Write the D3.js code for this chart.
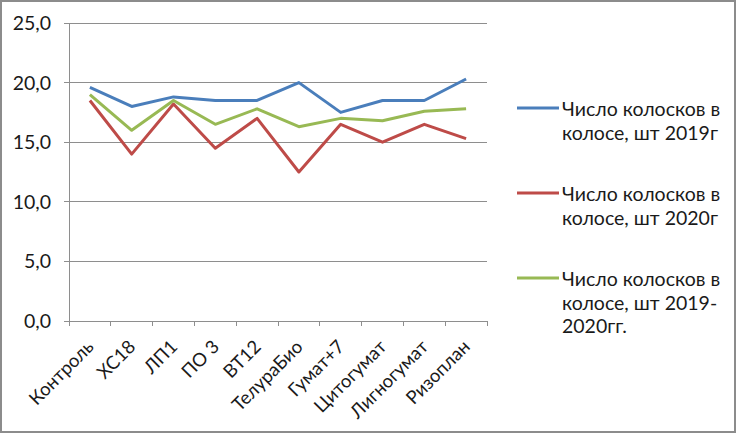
<!DOCTYPE html>
<html><head><meta charset="utf-8">
<script src="https://cdn.jsdelivr.net/npm/d3@7"></script>
<style>html,body{margin:0;padding:0;background:#fff;}svg{display:block;}</style>
</head><body>
<svg id="c" width="737" height="434"></svg>
<script>
const categories = ["Контроль","ХС18","ЛП1","ПО 3","ВТ12","ТелураБио","Гумат+7","Цитогумат","Лигногумат","Ризоплан"];
const series2019 = [19.6,18.0,18.8,18.5,18.5,20.0,17.5,18.5,18.5,20.3];
const series2020 = [18.5,14.0,18.2,14.5,17.0,12.5,16.5,15.0,16.5,15.3];
const series1920 = [19.0,16.0,18.5,16.5,17.8,16.3,17.0,16.8,17.6,17.8];
const yTicks = [0,5,10,15,20,25];
const seriesNames = [
  ["Число колосков в","колосе, шт 2019г"],
  ["Число колосков в","колосе, шт 2020г"],
  ["Число колосков в","колосе, шт 2019-","2020гг."]
];
const colors = ["#4a7ebb","#be4b48","#98b954"];
const seriesData = [series2019, series2020, series1920];

const font = "Lato, 'Open Sans', sans-serif";
const svg = d3.select("#c");
svg.append("rect").attr("x",1).attr("y",1).attr("width",734).attr("height",431)
  .attr("fill","#fff").attr("stroke","#8c8c8c").attr("stroke-width",2);

const x = d3.scaleBand().domain(categories).range([69,487]);
const y = d3.scaleLinear().domain([0,25]).range([321,23]);

// gridlines
svg.append("g").selectAll("line").data(yTicks).join("line")
  .attr("x1",64).attr("x2",487).attr("y1",d=>y(d)).attr("y2",d=>y(d))
  .attr("stroke","#8e8e8e").attr("stroke-width",1).attr("shape-rendering","crispEdges");
// y axis line
svg.append("line").attr("x1",69).attr("x2",69).attr("y1",y(25)).attr("y2",y(0))
  .attr("stroke","#8e8e8e").attr("shape-rendering","crispEdges");
// y labels
svg.append("g").selectAll("text").data(yTicks).join("text")
  .attr("transform",d=>`translate(51,${y(d)+7})`).attr("text-anchor","end")
  .attr("font-family",font).attr("font-size",19.5).attr("fill","#1a1a1a")
  .text(d=>d3.format(".1f")(d).replace(".",","));
// x tick marks
const edges = categories.map(c=>x(c)).concat([x.range()[1]]);
svg.append("g").selectAll("line").data(edges).join("line")
  .attr("x1",d=>d).attr("x2",d=>d).attr("y1",y(0)).attr("y2",y(0)+5)
  .attr("stroke","#8e8e8e").attr("shape-rendering","crispEdges");
// x labels
svg.append("g").selectAll("text").data(categories).join("text")
  .attr("transform",d=>`translate(${x(d)+x.bandwidth()/2+5},${y(0)+27}) rotate(-45)`)
  .attr("text-anchor","end").attr("font-family",font).attr("font-size",18.5).attr("fill","#1a1a1a")
  .text(d=>d);

// lines
const line = d3.line().x((d,i)=>x(categories[i])+x.bandwidth()/2).y(d=>y(d));
seriesData.forEach((s,k)=>{
  svg.append("path").datum(s).attr("d",line).attr("fill","none")
    .attr("stroke",colors[k]).attr("stroke-width",3).attr("stroke-linejoin","round");
});

// legend
const legY = [108,193,278];
seriesNames.forEach((lines,k)=>{
  const g = svg.append("g");
  g.append("line").attr("x1",517).attr("x2",559).attr("y1",legY[k]).attr("y2",legY[k])
    .attr("stroke",colors[k]).attr("stroke-width",3);
  lines.forEach((t,j)=>{
    g.append("text").attr("transform",`translate(562,${legY[k]+8+j*23.5})`)
      .attr("font-family",font).attr("font-size",19.5).attr("fill","#1a1a1a").text(t);
  });
});
</script>
</body></html>
